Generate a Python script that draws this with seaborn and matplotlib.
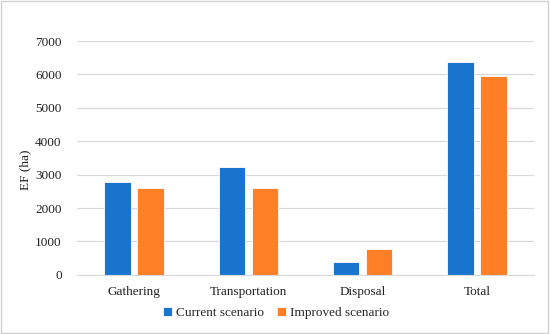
import matplotlib
matplotlib.use("Agg")
import matplotlib.pyplot as plt
import seaborn as sns
import pandas as pd
from matplotlib.patches import Rectangle

categories = ["Gathering", "Transportation", "Disposal", "Total"]
current = [2770, 3220, 400, 6360]
improved = [2600, 2600, 780, 5960]
series_names = ["Current scenario", "Improved scenario"]
colors = ["#1874CD", "#FF7F27"]

df = pd.DataFrame({
    "cat": categories * 2,
    "val": current + improved,
    "scen": [series_names[0]] * 4 + [series_names[1]] * 4,
})

sns.set_style("white")
plt.rcParams["font.family"] = ["Liberation Serif", "DejaVu Serif"]

fig = plt.figure(figsize=(5.5, 3.34), dpi=100)
ax = fig.add_axes([0.14, 0.177, 0.831, 0.7])
sns.barplot(data=df, x="cat", y="val", hue="scen", palette=colors, ax=ax,
            width=0.58, gap=0.2, order=categories, hue_order=series_names,
            edgecolor="white", linewidth=0.6, saturation=1)
ax.set_ylim(0, 7000)
ax.set_yticks(range(0, 7001, 1000))
ax.yaxis.grid(True, color="#d9d9d9", linewidth=0.9)
ax.set_axisbelow(True)
for s in ["top", "right", "left"]:
    ax.spines[s].set_visible(False)
ax.spines["bottom"].set_color("#d9d9d9")
ax.tick_params(axis="both", length=0, labelsize=9.5, colors="#222222")
ax.tick_params(axis="y", pad=11)
ax.tick_params(axis="x", pad=8)
ax.set_xlabel("")
ax.set_ylabel("EF (ha)", fontsize=9.5, color="#222222")
ax.yaxis.set_label_coords(-0.10, 0.45)
fig.legend(*ax.get_legend_handles_labels(), loc="center", bbox_to_anchor=(0.502, 0.062),
           ncol=2, frameon=False, fontsize=9.5, handlelength=0.7, handleheight=0.7,
           handletextpad=0.3, columnspacing=1.0)
ax.get_legend().remove()
fig.patches.append(Rectangle((0.002, 0.003), 0.995, 0.993, transform=fig.transFigure,
                             fill=False, edgecolor="#d0d0d0", linewidth=1))
fig.savefig("out.png", dpi=100)
